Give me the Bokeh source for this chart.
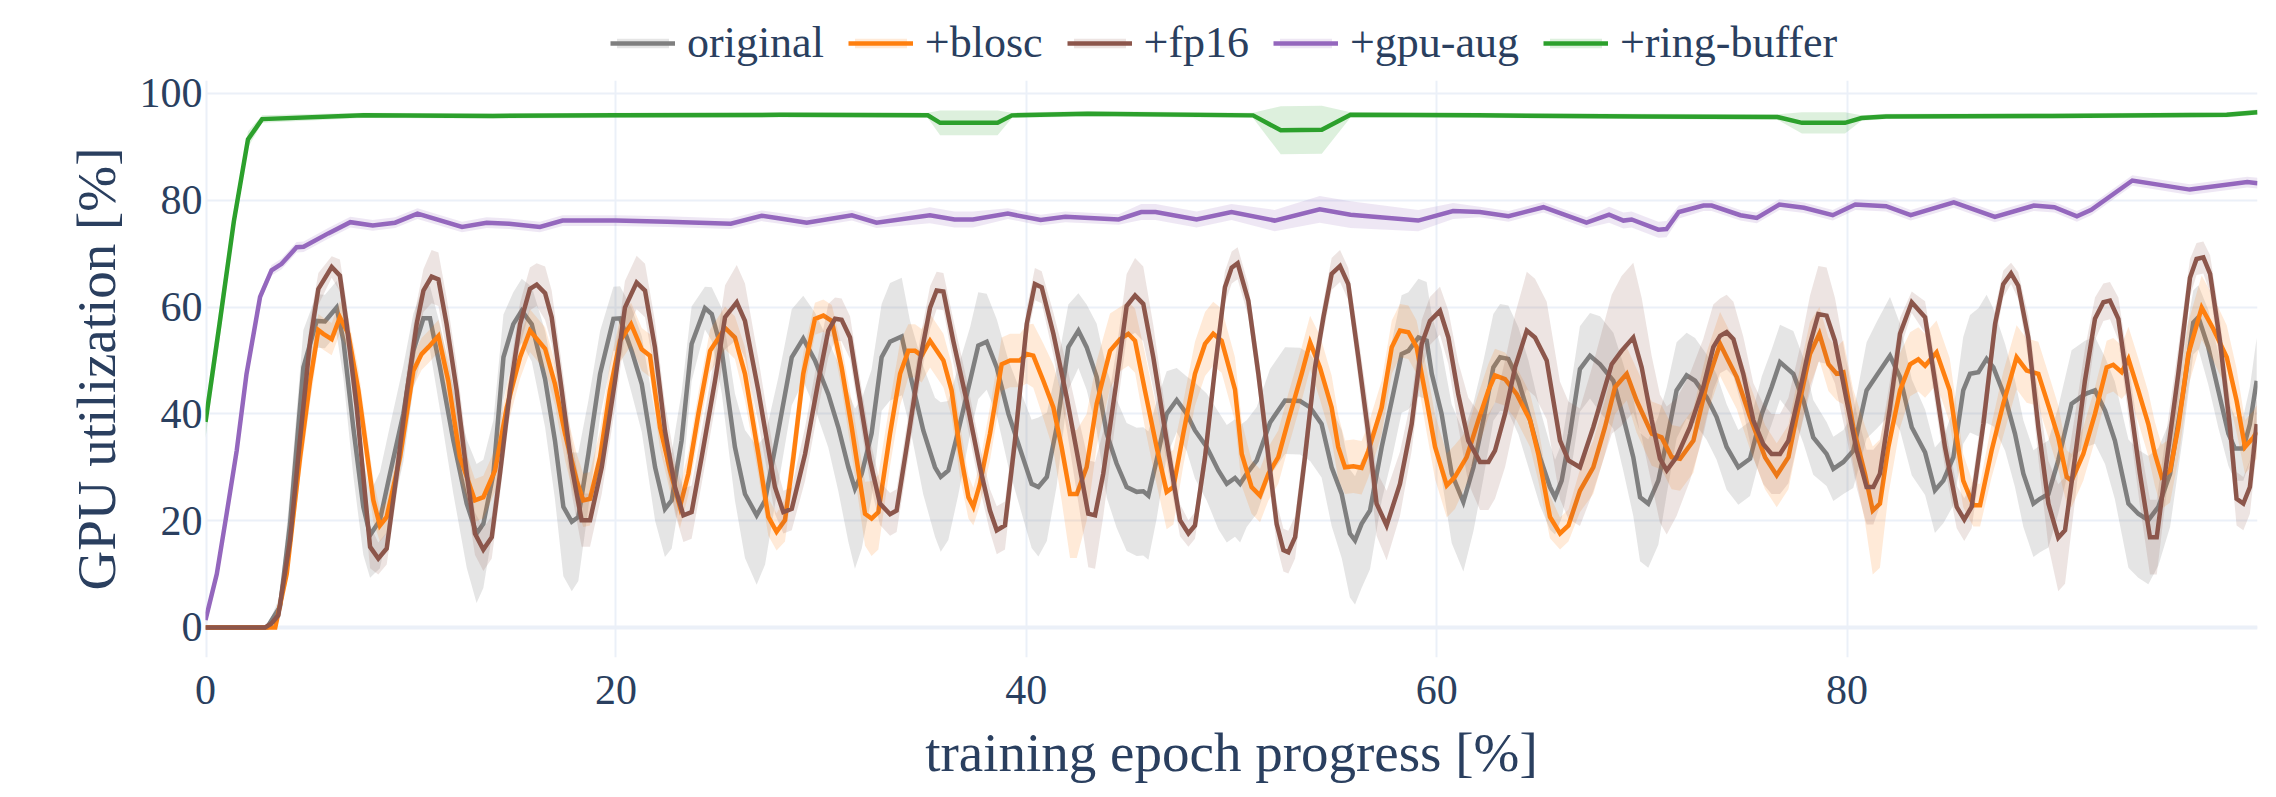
import numpy as np
from bokeh.plotting import figure
from bokeh.layouts import column
from bokeh.models import Legend, LegendItem, Range1d, FixedTicker, Span
from bokeh.embed import file_html
from bokeh.resources import INLINE

# ---------------- data ----------------
series_names = ["original", "+blosc", "+fp16", "+gpu-aug", "+ring-buffer"]
series_colors = ["#7f7f7f", "#ff7f0e", "#8c564b", "#9467bd", "#2ca02c"]

orig_x = [0, 3.0, 3.63, 4.12, 4.77, 5.42, 5.82, 6.39, 6.72, 7.2,
          7.69, 8.02, 8.5, 8.99, 9.64, 10.13, 10.62, 10.94, 11.43, 12.08,
          12.73, 13.21, 13.54, 14.03, 14.52, 15.0, 15.41, 15.9, 16.55, 17.03,
          17.44, 17.85, 18.17, 18.66, 19.23, 19.88, 20.2, 20.77, 21.26, 21.91,
          22.39, 22.72, 23.2, 23.69, 24.34, 24.67, 25.16, 25.8, 26.29, 26.86,
          27.27, 27.92, 28.57, 29.13, 29.7, 30.35, 30.84, 31.33, 31.65, 31.98,
          32.46, 32.95, 33.36, 33.93, 34.33, 34.98, 35.55, 35.83, 36.2, 36.69,
          37.26, 37.66, 38.07, 38.56, 39.13, 39.69, 40.26, 40.59, 41.0, 41.48,
          42.05, 42.54, 42.94, 43.43, 43.92, 44.4, 44.89, 45.38, 45.7, 45.95,
          46.35, 46.84, 47.33, 47.82, 48.22, 48.79, 49.36, 49.77, 50.17, 50.42,
          50.74, 51.23, 51.88, 52.61, 53.34, 53.83, 54.39, 54.88, 55.37, 55.77,
          56.02, 56.34, 56.75, 57.32, 57.81, 58.29, 58.62, 59.11, 59.51, 59.76,
          60.24, 60.73, 61.3, 61.79, 62.27, 62.76, 63.09, 63.49, 63.98, 64.47,
          65.03, 65.52, 65.77, 66.09, 66.5, 66.98, 67.47, 67.96, 68.61, 69.09,
          69.58, 69.91, 70.31, 70.8, 71.21, 71.69, 72.18, 72.59, 73.16, 73.64,
          74.13, 74.7, 75.27, 75.84, 76.32, 76.73, 77.38, 77.87, 78.35, 79.0,
          79.33, 79.82, 80.3, 80.95, 81.44, 82.09, 82.58, 83.15, 83.8, 84.28,
          84.69, 85.18, 85.66, 85.99, 86.4, 86.8, 87.13, 87.7, 88.18, 88.59,
          89.08, 89.4, 89.81, 90.29, 90.94, 91.59, 92.08, 92.57, 93.05, 93.71,
          94.19, 94.68, 95.17, 95.74, 96.39, 96.87, 97.12, 97.6, 98.09, 98.58,
          98.9, 99.31, 99.63, 99.96]
orig_y = [0, 0, 3.9, 19.4, 48.7, 57.4, 57.3, 59.9, 53.7, 37.5,
          22.6, 17.3, 20.1, 28.8, 40.0, 51.8, 57.9, 57.9, 48.7, 35.0,
          23.2, 17.6, 19.4, 28.8, 50.6, 56.8, 59.3, 56.8, 46.5, 35.0,
          22.6, 19.8, 20.7, 32.5, 47.5, 57.8, 57.9, 51.8, 45.6, 30.0,
          22.2, 23.8, 35.0, 53.1, 59.8, 58.7, 51.8, 33.8, 25.0, 21.0,
          23.8, 36.9, 50.6, 54.1, 50.0, 43.7, 37.5, 30.0, 26.0, 28.8,
          36.3, 50.6, 53.5, 54.5, 47.5, 36.9, 30.0, 28.2, 29.4, 36.9,
          46.2, 52.8, 53.5, 48.7, 40.0, 33.5, 26.9, 26.3, 28.2, 37.5,
          52.5, 55.6, 52.5, 46.9, 36.3, 30.7, 26.3, 25.4, 25.5, 24.7,
          31.3, 40.0, 42.6, 40.0, 36.9, 33.8, 29.4, 26.9, 28.0, 26.9,
          28.8, 31.3, 38.4, 42.5, 42.4, 41.2, 38.1, 30.0, 25.0, 17.6,
          16.3, 19.4, 21.9, 33.8, 42.5, 51.2, 51.8, 54.3, 53.7, 47.5,
          40.0, 28.8, 23.5, 30.0, 38.8, 48.7, 50.6, 50.3, 46.2, 40.0,
          31.9, 26.3, 24.4, 27.5, 36.3, 48.4, 50.9, 49.3, 46.2, 39.4,
          31.9, 24.4, 23.2, 27.5, 35.0, 44.4, 47.2, 46.2, 43.1, 39.4,
          33.8, 30.0, 31.6, 40.0, 45.0, 49.7, 47.5, 42.5, 35.6, 32.5,
          29.7, 31.0, 33.1, 44.4, 47.2, 50.9, 46.9, 37.5, 32.8, 25.7,
          27.5, 31.9, 44.4, 47.5, 47.8, 50.3, 48.7, 43.1, 36.3, 28.8,
          23.2, 24.1, 25.0, 31.3, 41.9, 43.7, 44.4, 40.6, 35.0, 23.2,
          21.3, 20.1, 22.6, 28.8, 44.4, 57.1, 58.1, 52.5, 44.4, 36.3,
          33.5, 33.5, 38.1, 46.2]
orig_sd = [0, 0, 2, 6, 7, 5, 5, 5, 7, 9,
           9, 8, 9, 9, 9, 7, 6, 6, 8, 10,
           12, 13, 12, 10, 8, 6, 6, 7, 9, 11,
           13, 13, 12, 10, 8, 6, 6, 8, 9, 10,
           9, 9, 9, 7, 4, 5, 8, 10, 12, 13,
           12, 10, 9, 8, 9, 10, 12, 14, 15, 14,
           12, 10, 11, 11, 10, 12, 13, 14, 13, 12,
           10, 10, 9, 9, 10, 11, 12, 13, 12, 11,
           8, 7, 8, 10, 12, 12, 12, 12, 12, 12,
           11, 8, 6, 7, 9, 10, 11, 11, 11, 11,
           10, 10, 10, 10, 10, 10, 10, 11, 12, 12,
           12, 12, 11, 10, 11, 11, 11, 11, 11, 11,
           12, 13, 13, 12, 11, 10, 10, 10, 10, 10,
           9, 8, 7, 7, 8, 8, 8, 9, 9, 10,
           11, 12, 12, 12, 10, 9, 8, 8, 8, 8,
           8, 7, 7, 7, 7, 7, 8, 8, 7, 6,
           6, 6, 7, 9, 10, 11, 10, 9, 8, 8,
           8, 9, 10, 11, 12, 12, 11, 10, 10, 10,
           10, 10, 10, 10, 10, 10, 10, 10, 11, 12,
           12, 12, 11, 10, 8, 6, 6, 7, 7, 6,
           6, 6, 7, 8]

blosc_x = [0, 3.4, 3.96, 4.61, 5.1, 5.5, 5.74, 6.15, 6.55, 6.96,
           7.45, 8.18, 8.5, 8.83, 9.48, 10.13, 10.53, 10.86, 11.35, 11.83,
           12.4, 13.13, 13.54, 14.11, 14.68, 15.33, 15.81, 16.55, 17.03, 17.52,
           18.09, 18.41, 18.74, 19.23, 19.71, 20.2, 20.74, 21.26, 21.66, 22.15,
           22.64, 23.12, 23.53, 24.02, 24.59, 25.32, 25.8, 26.29, 26.94, 27.43,
           27.83, 28.24, 28.65, 29.13, 29.7, 30.11, 30.52, 31.0, 31.49, 32.14,
           32.46, 32.79, 33.36, 33.85, 34.25, 34.58, 34.9, 35.31, 35.96, 36.36,
           36.77, 37.18, 37.42, 37.74, 38.23, 38.8, 39.21, 39.69, 40.02, 40.34,
           40.83, 41.32, 41.72, 42.13, 42.46, 42.94, 43.43, 44.08, 44.57, 44.97,
           45.3, 45.78, 46.35, 46.84, 47.17, 47.65, 48.22, 48.71, 49.11, 49.52,
           50.17, 50.5, 50.98, 51.39, 51.8, 52.28, 52.77, 53.42, 53.83, 54.31,
           54.88, 55.2, 55.53, 55.94, 56.34, 56.67, 57.32, 57.81, 58.21, 58.62,
           59.02, 59.51, 59.92, 60.49, 60.89, 61.46, 62.03, 62.52, 62.84, 63.33,
           63.9, 64.55, 64.95, 65.52, 66.01, 66.42, 66.98, 67.63, 68.2, 68.69,
           69.26, 69.74, 70.48, 70.96, 71.45, 71.86, 72.51, 73.16, 73.81, 74.21,
           74.62, 75.27, 76.0, 76.57, 77.14, 77.7, 78.19, 78.65, 79.09, 79.49,
           79.82, 80.3, 80.87, 81.25, 81.6, 82.01, 82.58, 83.07, 83.47, 83.8,
           84.36, 85.0, 85.66, 86.15, 86.48, 87.04, 87.61, 88.26, 88.75, 89.32,
           89.89, 90.29, 90.7, 90.94, 91.51, 92.08, 92.65, 92.97, 93.38, 93.71,
           94.19, 94.68, 95.0, 95.33, 95.74, 96.14, 96.63, 97.28, 97.85, 98.5,
           98.98, 99.39, 99.8, 99.96]
blosc_y = [0, 0, 10.1, 31.9, 46.2, 55.7, 55.0, 54.0, 58.1, 55.0,
           44.4, 23.8, 19.1, 20.7, 31.9, 48.1, 51.2, 52.5, 54.6, 46.2,
           31.9, 23.8, 24.4, 29.4, 41.2, 50.6, 55.6, 52.2, 45.6, 36.3,
           27.5, 23.8, 24.1, 31.9, 44.4, 53.7, 56.8, 52.1, 50.9, 37.5,
           29.4, 22.6, 28.8, 40.0, 51.8, 56.1, 54.3, 47.5, 32.5, 20.7,
           17.9, 20.1, 31.9, 47.5, 57.8, 58.4, 57.4, 48.7, 37.5, 21.3,
           20.4, 21.6, 36.3, 47.5, 51.8, 51.8, 50.9, 53.7, 50.0, 44.4,
           33.1, 24.4, 22.6, 26.9, 36.3, 49.3, 50.0, 50.0, 51.2, 50.9,
           46.2, 41.2, 33.8, 25.0, 25.0, 30.0, 41.9, 51.8, 54.0, 55.0,
           53.7, 44.4, 33.8, 25.4, 26.3, 36.3, 47.5, 53.1, 55.0, 53.7,
           44.6, 32.5, 26.3, 24.7, 28.8, 31.9, 38.8, 47.5, 53.4, 48.7,
           41.2, 33.8, 30.0, 30.2, 29.9, 33.1, 41.2, 52.5, 55.6, 55.3,
           52.5, 42.5, 33.8, 26.6, 28.2, 31.9, 38.8, 44.4, 47.2, 46.5,
           43.7, 38.8, 32.5, 20.7, 17.6, 19.1, 25.6, 30.0, 37.5, 45.0,
           47.5, 42.5, 36.3, 35.6, 31.9, 31.6, 35.0, 45.6, 53.1, 50.0,
           46.9, 39.4, 31.9, 28.5, 31.9, 42.5, 51.2, 55.0, 49.3, 47.5,
           47.8, 37.5, 28.8, 21.9, 23.2, 33.8, 44.4, 49.3, 50.2, 49.0,
           51.5, 44.4, 27.5, 22.9, 22.9, 33.1, 41.9, 50.6, 48.1, 47.5,
           40.6, 35.6, 28.2, 27.5, 32.5, 40.0, 48.7, 49.2, 47.8, 50.3,
           44.4, 38.1, 32.5, 28.2, 29.4, 37.5, 51.2, 59.9, 55.9, 50.6,
           42.5, 33.8, 35.6, 36.6]
blosc_sd = [0, 0, 2, 4, 4, 3, 3, 3, 3, 3,
            4, 4, 3, 3, 3, 3, 3, 3, 3, 4,
            4, 4, 4, 4, 4, 4, 4, 4, 4, 5,
            5, 5, 5, 5, 5, 4, 4, 4, 4, 4,
            4, 4, 4, 4, 4, 4, 4, 5, 4, 3.5,
            3.5, 4, 4, 4, 3, 3, 3, 4, 5, 6,
            7, 7, 6, 6, 5, 5, 5, 5, 5, 5,
            5, 4, 3.5, 4, 5, 5, 5, 5, 5.5, 6,
            7, 8, 10, 12, 12, 10, 8, 7, 6, 6,
            6, 7, 7, 7, 7, 6, 6, 6, 6, 6,
            6, 6, 5, 5, 5, 5, 5, 5, 5, 6,
            6, 6, 5, 5, 5, 5, 5, 5, 5, 5,
            5, 6, 6, 6, 6, 5, 5, 5, 5, 5,
            5, 5, 5, 4, 3, 3, 4, 5, 5, 5,
            5, 6, 6, 6, 6, 6, 6, 6, 6, 6,
            6, 6, 6, 6, 6, 6, 6, 5, 5, 5,
            6, 7, 9, 12, 12, 9, 7, 6, 6, 6,
            6, 6, 5, 4, 4, 5, 6, 6, 6, 6,
            6, 6, 5, 5, 5, 5, 5, 5, 5, 6,
            6, 6, 6, 6, 6, 6, 6, 6, 6, 6,
            6, 5, 5, 5]

fp16_x = [0, 2.9, 3.2, 3.55, 4.12, 4.6, 5.1, 5.5, 6.15, 6.55,
          6.88, 7.37, 8.02, 8.42, 8.83, 9.32, 9.8, 10.29, 10.62, 11.02,
          11.35, 11.75, 12.24, 12.73, 13.13, 13.54, 13.95, 14.35, 14.84, 15.33,
          15.81, 16.14, 16.55, 16.87, 17.36, 17.85, 18.33, 18.74, 19.31, 19.96,
          20.44, 21.01, 21.42, 21.9, 22.39, 22.88, 23.29, 23.69, 24.18, 24.83,
          25.32, 25.89, 26.29, 26.94, 27.75, 28.16, 28.57, 29.22, 29.87, 30.35,
          30.68, 31.0, 31.41, 31.82, 32.38, 32.87, 33.36, 33.68, 34.17, 34.82,
          35.31, 35.63, 35.96, 36.44, 37.09, 37.74, 38.23, 38.56, 38.96, 39.45,
          40.02, 40.42, 40.75, 41.32, 41.97, 42.54, 43.02, 43.35, 43.75, 44.4,
          44.89, 45.3, 45.7, 46.19, 46.84, 47.49, 47.9, 48.22, 48.71, 49.2,
          49.68, 50.01, 50.3, 50.82, 51.31, 51.8, 52.2, 52.53, 52.77, 53.1,
          53.58, 54.07, 54.48, 54.88, 55.29, 55.69, 56.18, 56.67, 57.07, 57.56,
          58.21, 58.78, 59.27, 59.67, 60.16, 60.57, 61.05, 61.54, 62.11, 62.52,
          62.84, 63.33, 63.82, 64.39, 64.79, 65.36, 66.01, 66.42, 66.98, 67.63,
          68.53, 69.01, 69.58, 69.99, 70.48, 70.88, 71.21, 71.69, 72.34, 72.99,
          73.48, 73.81, 74.13, 74.46, 74.94, 75.43, 75.92, 76.32, 76.73, 77.14,
          77.7, 78.19, 78.6, 79.0, 79.41, 79.98, 80.47, 80.95, 81.28, 81.6,
          82.09, 82.58, 83.15, 83.8, 84.28, 84.77, 85.34, 85.71, 86.07, 86.64,
          87.21, 87.61, 87.99, 88.34, 88.83, 89.32, 89.81, 90.29, 90.62, 91.11,
          91.59, 92.08, 92.49, 92.81, 93.22, 93.71, 94.27, 94.76, 95.09, 95.49,
          96.14, 96.71, 97.03, 97.36, 97.69, 98.17, 98.66, 98.98, 99.31, 99.63,
          99.96]
fp16_y = [0, 0, 0.7, 2.3, 16.3, 35.0, 53.7, 63.4, 67.5, 65.9,
          56.8, 41.2, 15.1, 12.9, 14.8, 28.8, 43.7, 56.8, 63.1, 65.7,
          65.2, 56.8, 44.4, 28.8, 17.6, 14.6, 16.9, 28.8, 44.4, 56.8,
          63.4, 64.2, 62.6, 58.1, 44.4, 30.0, 20.1, 20.1, 30.0, 46.2,
          59.9, 64.6, 63.1, 52.5, 36.9, 26.3, 21.0, 21.6, 31.9, 46.2,
          58.1, 60.9, 57.4, 44.4, 26.3, 21.6, 22.2, 32.5, 46.2, 55.6,
          57.8, 57.6, 54.3, 44.4, 31.3, 23.2, 21.2, 21.9, 33.8, 50.0,
          59.9, 63.1, 62.9, 53.7, 42.5, 30.0, 21.9, 18.2, 19.1, 35.0,
          56.8, 64.3, 63.7, 55.0, 43.1, 31.3, 21.3, 21.0, 28.8, 46.2,
          60.2, 62.2, 60.6, 50.6, 35.0, 20.1, 17.6, 19.1, 31.9, 48.7,
          63.7, 67.4, 68.2, 61.2, 47.5, 31.9, 19.4, 14.5, 14.1, 16.9,
          31.9, 48.7, 58.1, 66.2, 67.7, 64.3, 50.6, 36.3, 23.2, 19.1,
          26.9, 38.1, 53.1, 57.4, 59.3, 54.3, 43.7, 35.0, 31.0, 31.0,
          33.1, 40.0, 48.7, 55.6, 54.3, 50.0, 35.0, 31.3, 30.0, 37.5,
          49.3, 51.8, 54.3, 48.7, 38.8, 31.6, 29.4, 31.9, 37.5, 45.0,
          52.5, 54.6, 55.3, 54.0, 47.5, 38.8, 34.3, 32.5, 32.5, 35.0,
          44.4, 53.1, 58.7, 58.4, 53.7, 42.5, 33.1, 26.3, 26.3, 28.8,
          41.2, 55.0, 60.9, 58.1, 46.2, 33.8, 22.6, 20.2, 22.6, 38.1,
          56.8, 64.3, 66.3, 64.0, 54.3, 37.5, 23.2, 16.8, 18.2, 31.9,
          46.2, 57.8, 60.9, 61.2, 57.8, 44.4, 28.8, 16.9, 16.9, 28.8,
          47.5, 65.5, 69.0, 69.3, 66.2, 53.7, 37.5, 24.1, 23.2, 26.3,
          38.1]
fp16_sd = [0, 0, 0.5, 1, 3, 4, 4, 3, 2, 3,
           4, 4, 4, 3, 3, 4, 4, 4, 4, 5,
           5, 5, 5, 5, 4, 4, 4, 4, 4, 4,
           4, 4, 5, 5, 5, 5, 5, 5, 5, 5,
           5, 5, 5, 5, 5, 5, 5, 5, 5, 5,
           6, 7, 7, 6, 5, 4, 4, 5, 5, 5,
           4, 4, 4, 4, 4, 4, 4, 4, 4, 4,
           4, 3.5, 3.5, 4, 4, 4, 4, 4.5, 4.5, 4,
           3, 3, 3, 4, 6, 8, 10, 10, 8, 6,
           6, 7, 7, 6, 4, 3, 2.5, 2.5, 3, 3,
           3, 3, 3, 3, 3.5, 4, 4, 4, 4, 4,
           4, 3, 3, 3, 3, 3, 4, 5, 6, 6.5,
           6, 5, 4.5, 4.5, 4.5, 5, 6, 8, 9, 9,
           9, 10, 10, 11, 11, 11, 11, 11, 11, 12,
           13, 14, 14, 13, 12, 12, 12, 11, 10, 9,
           8, 7, 7, 7, 7, 7, 7.5, 7.5, 7.5, 8,
           8, 9, 9, 9, 8, 7, 7, 7, 7, 6,
           5, 3, 2, 3, 4, 4, 4, 4, 4, 4,
           3, 2.5, 2, 2.5, 4, 6, 8, 10, 10, 8,
           6, 4, 3.5, 3.5, 4, 5, 6, 7, 7, 6,
           5, 3.5, 3, 3, 3.5, 4, 5, 5, 5, 5,
           5]

gpuaug_x = [0, 0.55, 1.03, 1.52, 2.0, 2.66, 3.22, 3.71, 4.44, 4.78,
            5.98, 7.06, 8.15, 9.24, 10.33, 12.5, 13.7, 14.8, 16.3, 17.4,
            20.0, 22.5, 25.6, 27.1, 28.0, 29.3, 31.5, 32.7, 35.3, 36.5,
            37.4, 39.1, 40.7, 41.9, 44.5, 45.6, 46.3, 48.3, 50.0, 52.1,
            54.3, 55.8, 59.1, 60.8, 62.1, 63.5, 65.2, 67.3, 68.4, 69.1,
            69.5, 70.8, 71.2, 71.8, 73.0, 73.4, 74.8, 75.6, 76.7, 77.9,
            79.3, 80.4, 81.9, 83.1, 85.2, 87.2, 89.1, 90.1, 91.2, 91.9,
            93.9, 96.7, 99.5, 100]
gpuaug_y = [1.4, 10.0, 21.3, 33.1, 47.5, 61.9, 66.9, 68.1, 71.2, 71.3,
            73.8, 75.9, 75.3, 75.8, 77.5, 75.0, 75.8, 75.6, 75.0, 76.2,
            76.2, 76.0, 75.6, 77.1, 76.6, 75.8, 77.2, 75.8, 77.2, 76.4,
            76.4, 77.5, 76.3, 76.9, 76.4, 77.8, 77.8, 76.4, 77.8, 76.2,
            78.3, 77.3, 76.2, 78.0, 77.8, 77.0, 78.7, 75.8, 77.3, 76.2,
            76.4, 74.5, 74.6, 77.8, 79.0, 79.0, 77.2, 76.7, 79.2, 78.6,
            77.2, 79.2, 78.9, 77.2, 79.6, 76.9, 79.0, 78.7, 77.0, 78.2,
            83.7, 82.0, 83.4, 83.2]
gpuaug_sd = [0.5, 1, 1, 1, 1, 1, 1, 1, 1, 1,
             1, 1, 1, 1, 1, 1, 1, 1, 1, 1,
             1, 1, 1, 1, 1, 1, 1, 1, 1.5, 1.5,
             1.5, 1, 1, 1, 1, 1.5, 1.5, 1.5, 1.5, 2,
             2.5, 2.5, 2, 1.5, 1, 1, 1, 1, 1.5, 1.5,
             1.5, 1.5, 1.5, 1.2, 1, 1, 1, 1, 1, 1,
             1, 1, 1, 1, 1, 1, 1, 1, 1, 1,
             1, 1, 1, 1]

ring_x = [0, 0.69, 1.38, 2.07, 2.76, 7.7, 14.0, 20.0, 28.0, 35.2,
          35.8, 38.6, 39.3, 43.0, 51.05, 52.4, 54.4, 55.8, 62.0, 70.0,
          76.6, 77.8, 79.9, 80.7, 81.9, 90.0, 98.5, 100]
ring_y = [38.5, 57.0, 76.0, 91.4, 95.2, 95.9, 95.8, 95.9, 96.0, 95.9,
          94.5, 94.5, 95.9, 96.2, 95.9, 93.1, 93.2, 96.0, 95.9, 95.7,
          95.6, 94.5, 94.5, 95.4, 95.7, 95.8, 96.0, 96.5]
ring_sd = [3, 3, 2, 1.5, 0.7, 0.5, 0.5, 0.5, 0.5, 0.5,
           2.3, 2.3, 0.5, 0.5, 0.5, 4.5, 4.5, 0.5, 0.5, 0.5,
           0.5, 2, 2, 0.5, 0.5, 0.5, 0.5, 0.5]

x_ticks = [0, 20, 40, 60, 80]
y_ticks = [0, 20, 40, 60, 80, 100]

series = [(orig_x, orig_y, orig_sd), (blosc_x, blosc_y, blosc_sd),
          (fp16_x, fp16_y, fp16_sd), (gpuaug_x, gpuaug_y, gpuaug_sd),
          (ring_x, ring_y, ring_sd)]
for name, (sx, sy, ss) in zip(series_names, series):
    if not (len(sx) == len(sy) == len(ss)):
        raise ValueError(f"{name}: {len(sx)} {len(sy)} {len(ss)}")

# ---------------- figure ----------------
TEXT = "#2a3f5f"
GRID = "#EBF0F8"
FONT = "Liberation Serif"
LINE_W = 4.5


def band_alpha(color):
    return 0.2 if color == "#7f7f7f" else 0.16


# main plot
p = figure(frame_width=2052, frame_height=577, output_backend="svg", toolbar_location=None,
           x_range=Range1d(0, 100), y_range=Range1d(-5.62, 102.43))
p.min_border_left = 205
p.min_border_right = 19
p.min_border_top = 12
p.min_border_bottom = 140
p.outline_line_color = None
p.background_fill_color = "white"
p.border_fill_color = "white"

for ax in (p.xaxis[0], p.yaxis[0]):
    ax.axis_line_color = None
    ax.major_tick_line_color = None
    ax.minor_tick_line_color = None
    ax.major_tick_out = 0
    ax.major_tick_in = 0
    ax.major_label_text_font = FONT
    ax.major_label_text_font_size = "42px"
    ax.major_label_text_color = TEXT
    ax.axis_label_text_font = FONT
    ax.axis_label_text_font_size = "55px"
    ax.axis_label_text_font_style = "normal"
    ax.axis_label_text_color = TEXT

p.xaxis.ticker = FixedTicker(ticks=x_ticks)
p.yaxis.ticker = FixedTicker(ticks=y_ticks)
p.xaxis.axis_label = "training epoch progress [%]"
p.yaxis.axis_label = "GPU utilization [%]"
p.xaxis.major_label_standoff = 18
p.yaxis.major_label_standoff = 3
p.xaxis.axis_label_standoff = 15
p.yaxis.axis_label_standoff = 10

p.xgrid.grid_line_color = GRID
p.ygrid.grid_line_color = GRID
p.xgrid.grid_line_width = 2
p.ygrid.grid_line_width = 2
p.add_layout(Span(location=0, dimension="width", line_color=GRID, line_width=4, level="underlay"))
p.add_layout(Span(location=0, dimension="height", line_color=GRID, line_width=4, level="underlay"))

for name, color, (sx, sy, ss) in zip(series_names, series_colors, series):
    xa = np.asarray(sx, dtype=float)
    ya = np.asarray(sy, dtype=float)
    sa = np.asarray(ss, dtype=float)
    p.varea(x=xa, y1=ya - sa, y2=ya + sa, fill_color=color, fill_alpha=band_alpha(color))
    p.line(xa, ya, line_color=color, line_width=LINE_W, line_join="miter")

# legend strip above the plot: same series, drawn out of view so only the legend shows
lg = figure(width=2276, height=68, output_backend="svg", toolbar_location=None,
            x_axis_location=None, y_axis_location=None,
            x_range=Range1d(0, 100), y_range=Range1d(1000, 1001))
lg.min_border = 0
lg.outline_line_color = None
lg.grid.visible = False
items = []
for name, color, (sx, sy, ss) in zip(series_names, series_colors, series):
    xa = np.asarray(sx, dtype=float)
    ya = np.asarray(sy, dtype=float)
    sa = np.asarray(ss, dtype=float)
    b = lg.varea(x=xa, y1=ya - sa, y2=ya + sa, fill_color=color, fill_alpha=band_alpha(color))
    l = lg.line(xa, ya, line_color=color, line_width=LINE_W)
    items.append(LegendItem(label=name, renderers=[b, l]))
legend = Legend(items=items, orientation="horizontal", location=(405, 0))
legend.border_line_color = None
legend.background_fill_alpha = 0
legend.label_text_font = FONT
legend.label_text_font_size = "44px"
legend.label_text_color = TEXT
legend.glyph_width = 65
legend.glyph_height = 12
legend.label_standoff = 12
legend.spacing = 24
legend.padding = 0
legend.margin = 0
lg.add_layout(legend, "center")

layout = column(lg, p, spacing=0)
open("out.html", "w").write(file_html(layout, INLINE))
